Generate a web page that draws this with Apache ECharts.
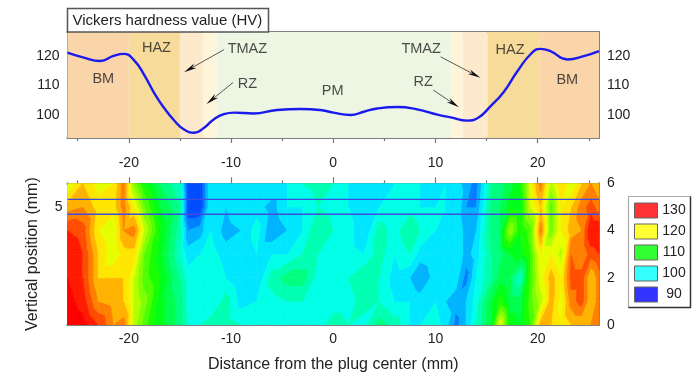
<!DOCTYPE html>
<html><head><meta charset="utf-8">
<style>html,body{margin:0;padding:0;background:#fff}#c{width:700px;height:381px;filter:blur(0.4px)}</style>
<script src="https://cdn.jsdelivr.net/npm/echarts@6/dist/echarts.min.js"></script>
</head><body><div id="c"></div>
<script>
// ---- data ----
const profileX = [-26,-24.4,-22.8,-21.5,-20.5,-19.5,-18.5,-17.5,-16.6,-15.6,-14.6,-13.6,-12.7,-11.7,-10.7,-9.7,-7.8,-5.5,-3.2,-1.3,0,1.7,3,4.3,6.3,8.2,10.2,11.5,13.1,14.1,15.4,16.7,18,19.4,20.3,21.3,22.9,24.6,26];
const profileHV = [121.1,119.4,118.3,120,120.7,118.6,113.6,107.3,102.6,98.3,95.1,94,95.5,98.5,100.3,100.8,100.5,101.7,102,101.7,100.8,100,101.1,102.2,102.7,101.9,100.1,99.2,98.1,98.9,103,107.9,114.7,120.9,122.4,121.5,118.8,120,121.6];
const zoneEdges = [-26,-20,-15,-12.7,-11.4,11.5,12.7,15.1,20.2,26];
const zoneColors = ['#FBD5AA','#F7DB9B','#FDE9CB','#FEF5DB','#ECF6E2','#FEF5DB','#FDE9CB','#F7DB9B','#FBD5AA'];
const zoneLabels = [['BM',-22.5,112.1],['HAZ',-17.3,122.6],['TMAZ',-8.4,122.4],['RZ',-8.4,110.4],['PM',-0.05,108.2],['TMAZ',8.6,122.4],['RZ',8.8,111.3],['HAZ',17.3,122],['BM',22.9,111.9]];
const arrows = [[-10.7,122.1,-14.6,114.5],[-9.8,111,-12.4,103.7],[10.5,119.7,14.4,112.6],[9.8,108.4,12.3,102.6]];
const heatX = [-26,-24.5,-23,-21.5,-20.5,-19.5,-18.5,-17,-15,-14.2,-13,-12,-10.5,-9,-7.5,-6,-4.5,-3,-1.5,0,1.5,3,4.5,6,7.5,8.5,10,11,12,13,14,15.5,16.3,17.3,18.3,19.3,20.3,21.3,22.3,23.3,24.3,25.2,26];
const heatY = [0,1,2,3,4,5,6];
const hvY0 = [132,131,128,124,125,117,113,109,105,102,102,103,103,102,100,100,100,101,101,103,102,101,105,103,100,100,101,99,95,98,102,108,120,109,108,112,123,122,120,122,122,124,124];
const hvY1 = [131,129,124,123,122,118,115,109,105,101,101,100,103,99,100,101,102,102,101,101,101,103,102,100,100,99,100,98,97,98,101,108,111,107,107,113,117,123,119,125,127,122,125];
const hvY2 = [130,128,122,122,122,118,113,110,104,101,100,102,100,98,98,103,105,105,101,100,102,104,102,99,98,96,99,99,99,95,100,104,107,106,102,112,119,123,120,127,127,122,125];
const hvY3 = [130,128,122,118,121,121,114,109,102,99,100,101,99,98,100,100,100,102,102,100,101,100,103,100,102,99,100,99,100,97,99,104,105,108,109,112,120,120,117,126,124,127,128];
const hvY4 = [128,127,120,118,124,125,118,110,103,96,97,100,97,98,101,96,98,100,104,102,101,98,103,101,104,102,100,99,100,97,98,105,106,116,110,113,125,114,120,123,124,130,130];
const hvY5 = [123,124,121,121,125,120,114,108,104,92,92,100,98,100,99,97,100,100,102,101,100,98,100,100,101,100,100,100,100,96,96,105,106,109,109,118,122,113,120,122,125,127,125];
const hvY6 = [118,122,119,120,125,115,110,106,102,92,92,100,98,99,98,100,100,102,103,102,100,98,98,100,100,100,98,100,99,97,95,104,105,107,110,119,125,117,122,118,122,124,122];
const heatRows = [hvY0,hvY1,hvY2,hvY3,hvY4,hvY5,hvY6];
const guideLines = [5.32,4.69];
const legendValues = [130,120,110,100,90];
const legendColors = ['#FF3333','#FFFF33','#33FF33','#33FFFF','#3333FF'];
const majorX = [-20,-10,0,10,20];
const minorX = [-25,-15,-5,5,15,25];
const hvTicks = [100,110,120];
const titleText = 'Vickers hardness value (HV)';
const xTitle = 'Distance from the plug center (mm)';
const yTitle = 'Vertical position (mm)';

// ---- drawing ----
const FONT = '"Liberation Sans", Arial, sans-serif';
const INK = '#222';
const FRAME = '#808080';
function hvColor(v){
  const s=[[90,[0,0,255]],[100,[0,255,255]],[110,[0,255,0]],[120,[255,255,0]],[130,[255,0,0]]];
  if(v<=90) return 'rgb(0,0,255)'; if(v>=130) return 'rgb(255,0,0)';
  for(let i=0;i<4;i++){ if(v<=s[i+1][0]){ const t=(v-s[i][0])/10;
    const c=s[i][1].map((a,k)=>Math.round(a+(s[i+1][1][k]-a)*t)); return 'rgb('+c.join(',')+')'; } }
}
function clip(poly,lev,keepAbove){
  const out=[];
  for(let i=0;i<poly.length;i++){
    const a=poly[i],b=poly[(i+1)%poly.length];
    const ia=keepAbove?a[2]>=lev:a[2]<=lev, ib=keepAbove?b[2]>=lev:b[2]<=lev;
    if(ia) out.push(a);
    if(ia!==ib){ const t=(lev-a[2])/(b[2]-a[2]); out.push([a[0]+(b[0]-a[0])*t,a[1]+(b[1]-a[1])*t,lev]); }
  }
  return out;
}
const STEP=2;
function bands(tri,children){
  const vs=tri.map(p=>p[2]);
  const lo=Math.floor(Math.min(...vs)/STEP)*STEP;
  let hi=Math.ceil(Math.max(...vs)/STEP)*STEP;
  if(hi===lo) hi=lo+STEP;
  for(let L=lo;L<hi;L+=STEP){
    let p=clip(tri,L,true); if(p.length<3) continue;
    p=clip(p,L+STEP,false); if(p.length<3) continue;
    const col=hvColor(L+STEP/2);
    children.push({type:'polygon',shape:{points:p.map(q=>[q[0],q[1]])},style:{fill:col,stroke:col,lineWidth:0.7}});
  }
}
const heatCells=[];
for(let j=0;j<heatY.length-1;j++) for(let i=0;i<heatX.length-1;i++)
  heatCells.push([heatX[i],heatY[j],heatX[i+1],heatY[j+1],heatRows[j][i],heatRows[j][i+1],heatRows[j+1][i],heatRows[j+1][i+1]]);
function renderHeat(params,api){
  const x0=api.value(0),y0=api.value(1),x1=api.value(2),y1=api.value(3);
  const P=(x,y,v)=>{const c=api.coord([x,y]);return [c[0],c[1],v];};
  const a=P(x0,y0,api.value(4)),b=P(x1,y0,api.value(5)),c=P(x0,y1,api.value(6)),d=P(x1,y1,api.value(7));
  const ch=[]; bands([a,b,d],ch); bands([a,d,c],ch);
  return {type:'group',children:ch};
}
function renderArrow(params,api){
  const s=api.coord([api.value(0),api.value(1)]),e=api.coord([api.value(2),api.value(3)]);
  const dx=e[0]-s[0],dy=e[1]-s[1],L=Math.hypot(dx,dy),ux=dx/L,uy=dy/L,nx=-uy,ny=ux;
  const h=13,w=2.6;
  return {type:'group',children:[
    {type:'line',shape:{x1:s[0],y1:s[1],x2:e[0]-ux*h*0.7,y2:e[1]-uy*h*0.7},style:{stroke:'#333',lineWidth:0.8}},
    {type:'polygon',shape:{points:[[e[0],e[1]],[e[0]-ux*h+nx*w,e[1]-uy*h+ny*w],[e[0]-ux*h*0.7,e[1]-uy*h*0.7],[e[0]-ux*h-nx*w,e[1]-uy*h-ny*w]]},style:{fill:'#111'}}
  ]};
}
function renderGuide(params,api){
  const a=api.coord([-26,api.value(0)]),b=api.coord([26,api.value(0)]);
  return {type:'rect',shape:{x:a[0],y:a[1]-0.7,width:b[0]-a[0],height:1.4},style:{fill:'#3f4ce0'}};
}
function xAx(gridIndex,position,custom,len,inside,color,labels,extra){
  return Object.assign({type:'value',gridIndex,position,min:-26,max:26,
    axisLine:{show:true,onZero:false,lineStyle:{color:FRAME,width:2}},
    splitLine:{show:false},
    axisTick:{show:true,inside,length:len,customValues:custom,lineStyle:{color,width:1.2}},
    axisLabel:labels?{show:true,customValues:majorX,margin:labels,color:INK,fontSize:14,fontFamily:FONT,formatter:v=>String(v)}:{show:false}
  },extra||{});
}
function yAx(gridIndex,position,min,max,tickVals,labelVals,extra,margin){
  return Object.assign({type:'value',gridIndex,position,min,max,
    axisLine:{show:true,onZero:false,lineStyle:{color:FRAME,width:2}},
    splitLine:{show:false},
    axisTick:{show:true,inside:true,length:6,customValues:tickVals,lineStyle:{color:'#333',width:1.2}},
    axisLabel:{show:true,customValues:labelVals,margin:margin||8,color:INK,fontSize:14,fontFamily:FONT,formatter:v=>String(v)}
  },extra||{});
}
const legendItems=[];
legendValues.forEach((v,i)=>{
  const y=203+i*21;
  legendItems.push({type:'rect',z:12,shape:{x:634.5,y,width:23,height:15},style:{fill:legendColors[i],stroke:'#666',lineWidth:1}});
  legendItems.push({type:'text',z:12,x:674,y:y+7.5,style:{text:String(v),fill:INK,font:'14px '+FONT,textAlign:'center',textVerticalAlign:'middle'}});
});
const option={
  animation:false,backgroundColor:'#fff',
  grid:[{left:67.5,top:32,width:531.5,height:106},{left:67.5,top:183.3,width:531.5,height:141.7}],
  xAxis:[
    xAx(0,'bottom',majorX,5,false,'#777',18),
    xAx(0,'bottom',minorX,3,false,'#777',0),
    xAx(0,'top',majorX,4,true,'#777',0),
    xAx(0,'top',minorX,3,true,'#777',0),
    xAx(1,'bottom',majorX,5,true,'#333',7,{name:xTitle,nameLocation:'middle',nameGap:32,nameTextStyle:{color:INK,fontSize:16,fontFamily:FONT}}),
    xAx(1,'bottom',minorX,3,true,'#333',0),
    xAx(1,'top',majorX,6,false,'#777',0),
    xAx(1,'top',minorX,3,false,'#777',0)
  ],
  yAxis:[
    yAx(0,'left',92.2,128.1,hvTicks,hvTicks),
    yAx(0,'right',92.2,128.1,hvTicks,hvTicks),
    yAx(1,'left',0,6,[2,4],[5],{name:yTitle,nameLocation:'middle',nameGap:27,nameTextStyle:{color:INK,fontSize:16,fontFamily:FONT}},5),
    yAx(1,'right',0,6,[2,4],[0,2,4,6])
  ],
  series:[
    {type:'line',xAxisIndex:0,yAxisIndex:0,data:profileX.map((x,i)=>[x,profileHV[i]]),smooth:0.5,showSymbol:false,symbol:'none',z:5,
     lineStyle:{color:'#1a1aee',width:2.4},
     markArea:{silent:true,z:1,data:zoneColors.map((c,i)=>[{xAxis:zoneEdges[i],yAxis:92.2,itemStyle:{color:c}},{xAxis:zoneEdges[i+1],yAxis:128.1}])}},
    {type:'custom',xAxisIndex:0,yAxisIndex:0,data:arrows,z:6,encode:{x:0,y:1},renderItem:renderArrow,silent:true},
    {type:'scatter',xAxisIndex:0,yAxisIndex:0,data:zoneLabels.map(l=>({value:[l[1],l[2]],name:l[0]})),symbolSize:0,z:7,silent:true,
     label:{show:true,position:'inside',formatter:p=>p.name,color:INK,fontSize:14.5,fontFamily:FONT}},
    {type:'custom',xAxisIndex:4,yAxisIndex:2,data:heatCells,z:2,encode:{x:0,y:1},renderItem:renderHeat,silent:true,clip:true},
    {type:'custom',xAxisIndex:4,yAxisIndex:2,data:guideLines.map(v=>[v]),encode:{y:0},z:4,renderItem:renderGuide,silent:true}
  ],
  graphic:[
    {type:'rect',shape:{x:67.5,y:8.5,width:201,height:23.5},style:{fill:'#fff',stroke:'#555',lineWidth:1.5},z:10},
    {type:'text',x:72.5,y:20.5,z:11,style:{text:titleText,fill:INK,font:'15px '+FONT,textVerticalAlign:'middle'}},
    {type:'rect',shape:{x:628.5,y:196.5,width:62,height:111},style:{fill:'#fff',stroke:'#aaa',lineWidth:1.2},z:10},
    {type:'polyline',shape:{points:[[690.5,196.5],[690.5,307.5],[628.5,307.5]]},style:{fill:null,stroke:'#333',lineWidth:1.4},z:11}
  ].concat(legendItems)
};
echarts.init(document.getElementById('c'),null,{renderer:'canvas'}).setOption(option);
</script></body></html>
